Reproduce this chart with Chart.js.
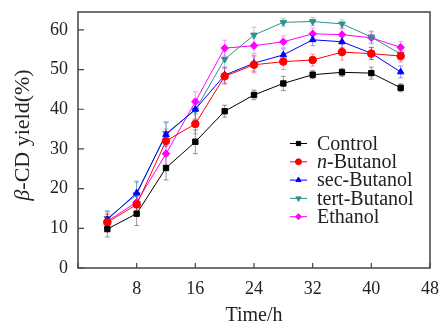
<!DOCTYPE html>
<html>
<head>
<meta charset="utf-8">
<script src="https://cdn.jsdelivr.net/npm/chart.js@4"></script>
<style>
  html, body { margin: 0; padding: 0; background: #fff; }
  #wrap { width: 441px; height: 326px; }
</style>
</head>
<body>
<div id="wrap"><canvas id="yield-chart" width="441" height="326"></canvas></div>
<script>
const hours = [4, 8, 12, 16, 20, 24, 28, 32, 36, 40, 44];
const seriesNames = ["Control", "n-Butanol", "sec-Butanol", "tert-Butanol", "Ethanol"];
const control = [9.8, 13.7, 25.2, 31.8, 39.5, 43.6, 46.5, 48.7, 49.3, 49.1, 45.4];
const nButanol = [11.5, 16.0, 32.0, 36.3, 48.3, 51.2, 52.0, 52.4, 54.4, 54.0, 53.4];
const secButanol = [12.2, 18.9, 33.6, 40.0, 48.6, 51.6, 53.7, 57.5, 57.0, 54.1, 49.4];
const tertButanol = [12.5, 18.5, 33.9, 39.8, 52.6, 58.7, 61.9, 62.1, 61.5, 58.2, 53.9];
const ethanol = [11.8, 16.6, 28.8, 41.9, 55.4, 56.0, 57.0, 59.0, 58.8, 58.0, 55.6];
const controlErr = [2.0, 3.0, 3.0, 3.0, 1.5, 1.2, 1.8, 1.0, 1.0, 1.5, 1.0];
const nButanolErr = [2.0, 3.0, 3.0, 2.5, 2.0, 2.0, 2.0, 1.5, 2.0, 1.5, 1.5];
const secButanolErr = [2.0, 3.0, 3.0, 2.5, 2.0, 2.0, 1.5, 1.5, 1.5, 1.5, 1.5];
const tertButanolErr = [2.0, 3.0, 3.0, 2.5, 2.0, 2.0, 1.0, 1.0, 1.0, 1.5, 1.5];
const ethanolErr = [2.0, 3.0, 3.0, 2.5, 2.0, 2.0, 1.5, 1.5, 1.5, 1.5, 1.5];
const xTicks = [0, 8, 16, 24, 32, 40, 48];
const yTicks = [0, 10, 20, 30, 40, 50, 60];

const colors = ["#000000", "#ff0000", "#0000ff", "#2f8f8f", "#ff00ff"];
const markers = ["rect", "circle", "triangle", "triangle", "rectRot"];
const rotations = [0, 0, 0, 180, 0];
const values = [control, nButanol, secButanol, tertButanol, ethanol];
const errors = [controlErr, nButanolErr, secButanolErr, tertButanolErr, ethanolErr];

const serif = '"Liberation Serif", "Times New Roman", serif';

const datasets = seriesNames.map((name, i) => ({
    label: name,
    data: hours.map((h, j) => ({x: h, y: values[i][j]})),
    errors: errors[i],
    borderColor: colors[i],
    backgroundColor: colors[i],
    borderWidth: 1,
    pointStyle: markers[i],
    rotation: rotations[i],
    pointRadius: 3.8,
    pointBorderWidth: 1,
    tension: 0
}));

// error bars, drawn through the scales
const errorBars = {
    id: "errorBars",
    beforeDatasetsDraw(chart) {
        const ctx = chart.ctx;
        const xs = chart.scales.x, ys = chart.scales.y;
        chart.data.datasets.forEach(ds => {
            ctx.save();
            ctx.strokeStyle = ds.borderColor;
            ctx.globalAlpha = 0.4;
            ctx.lineWidth = 1;
            ds.data.forEach((p, j) => {
                const px = xs.getPixelForValue(p.x);
                const top = ys.getPixelForValue(p.y + ds.errors[j]);
                const bot = ys.getPixelForValue(p.y - ds.errors[j]);
                ctx.beginPath();
                ctx.moveTo(px, top); ctx.lineTo(px, bot);
                ctx.moveTo(px - 2.5, top); ctx.lineTo(px + 2.5, top);
                ctx.moveTo(px - 2.5, bot); ctx.lineTo(px + 2.5, bot);
                ctx.stroke();
            });
            ctx.restore();
        });
    }
};

// box frame, inward ticks, legend and y title
const frame = {
    id: "frame",
    afterDraw(chart) {
        const ctx = chart.ctx;
        const a = chart.chartArea;
        const xs = chart.scales.x, ys = chart.scales.y;
        ctx.save();
        ctx.strokeStyle = "#444";
        ctx.lineWidth = 1.5;
        ctx.strokeRect(a.left, a.top, a.right - a.left, a.bottom - a.top);
        ctx.lineWidth = 1.2;
        ctx.beginPath();
        xTicks.forEach(t => {
            const px = xs.getPixelForValue(t);
            ctx.moveTo(px, a.bottom); ctx.lineTo(px, a.bottom - 5);
        });
        yTicks.forEach(t => {
            const py = ys.getPixelForValue(t);
            ctx.moveTo(a.left, py); ctx.lineTo(a.left + 6, py);
        });
        ctx.stroke();

        // legend
        let ly = 143.5;
        chart.data.datasets.forEach(ds => {
            ctx.strokeStyle = ds.borderColor;
            ctx.fillStyle = ds.backgroundColor;
            ctx.lineWidth = 1;
            ctx.beginPath();
            ctx.moveTo(290, ly); ctx.lineTo(307, ly);
            ctx.stroke();
            Chart.helpers.drawPoint(ctx, {pointStyle: ds.pointStyle, rotation: ds.rotation, radius: 3, borderWidth: 1}, 298.5, ly);
            ctx.fillStyle = "#222";
            ctx.textBaseline = "middle";
            ctx.textAlign = "left";
            let tx = 317;
            let text = ds.label;
            if (text.startsWith("n-")) {
                ctx.font = "italic 20px " + serif;
                ctx.fillText("n", tx, ly + 1);
                tx += ctx.measureText("n").width;
                text = text.slice(1);
            }
            ctx.font = "20px " + serif;
            ctx.fillText(text, tx, ly + 1);
            ly += 18.3;
        });

        // y title with italic beta
        ctx.translate(23, 135);
        ctx.rotate(-Math.PI / 2);
        ctx.fillStyle = "#222";
        ctx.textBaseline = "middle";
        ctx.font = "italic 22px " + serif;
        const wb = ctx.measureText("β").width;
        ctx.font = "22px " + serif;
        const wr = ctx.measureText("-CD yield(%)").width;
        let sx = -(wb + wr) / 2;
        ctx.font = "italic 22px " + serif;
        ctx.fillText("β", sx, 0);
        ctx.font = "22px " + serif;
        ctx.fillText("-CD yield(%)", sx + wb, 0);
        ctx.restore();
    }
};

new Chart(document.getElementById("yield-chart"), {
    type: "line",
    data: {datasets: datasets},
    options: {
        responsive: false,
        animation: false,
        layout: {padding: {top: 12, right: 11, left: 0, bottom: 0}},
        plugins: {
            legend: {display: false},
            tooltip: {enabled: false}
        },
        scales: {
            x: {
                type: "linear",
                min: 0,
                max: 48,
                afterBuildTicks: s => { s.ticks = xTicks.map(v => ({value: v})); },
                afterFit: s => { s.height = 58; s.paddingLeft = 0; s.paddingRight = 0; },
                grid: {display: false, drawTicks: false},
                border: {display: false},
                ticks: {
                    padding: 10,
                    color: "#222",
                    font: {family: serif, size: 18},
                    callback: v => v === 0 ? "" : v
                },
                title: {
                    display: true,
                    text: "Time/h",
                    color: "#222",
                    font: {family: serif, size: 20},
                    padding: {top: 0, bottom: -2}
                }
            },
            y: {
                min: 0,
                max: 64.5,
                afterBuildTicks: s => { s.ticks = yTicks.map(v => ({value: v})); },
                afterFit: s => { s.width = 78; s.paddingTop = 0; s.paddingBottom = 0; },
                grid: {display: false, drawTicks: false},
                border: {display: false},
                ticks: {
                    padding: 10,
                    color: "#222",
                    font: {family: serif, size: 18}
                }
            }
        }
    },
    plugins: [errorBars, frame]
});
</script>
</body>
</html>
